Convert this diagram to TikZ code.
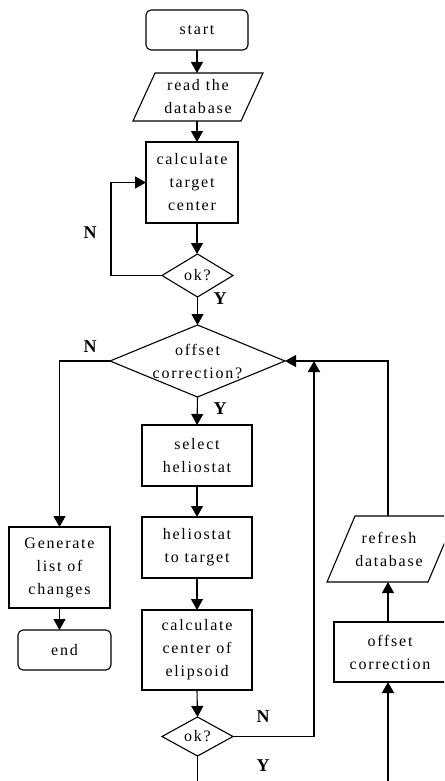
\documentclass[tikz,border=0pt]{standalone}
\usepackage{fontspec}
\setmainfont{Liberation Serif}[LetterSpace=11]
\newfontfamily\labelfont{Liberation Serif}
\usetikzlibrary{arrows.meta,calc}

\tikzset{
  every node/.style={inner sep=0pt, outer sep=0pt},
  txt/.style={font=\fontsize{16}{23}\selectfont, align=center},
  procbox/.style={txt, draw, line width=1.1pt, minimum width=#1},
  procbox/.default=110pt,
  termbox/.style={txt, draw, line width=1.1pt, rounded corners=5pt},
  decide/.style={txt},
  iobox/.style={txt},
  outline/.style={line width=1.1pt},
  yn/.style={font=\labelfont\bfseries\fontsize{18}{18}\selectfont},
  link/.style={line width=1.1pt},
  arr/.style={link, -{Triangle[width=12pt,length=11pt]}},
  heavy/.style={line width=1.7pt}
}

\begin{document}
\begin{tikzpicture}[x=1pt,y=-1pt]
\path[use as bounding box] (0,0) rectangle (444,781);
\clip (0,0) rectangle (444,781);
\fill[white] (0,0) rectangle (444,781);

% main column
\node[termbox, minimum width=102pt, minimum height=40pt] (st) at (197,30) {start};
\node[iobox, minimum width=108pt, minimum height=48pt] (rd) at (198,97) {read the\\database};
\draw[outline, shift={(rd.center)}] (-43,-24) -- (65,-24) -- (43,24) -- (-65,24) -- cycle;
\node[procbox=92pt, minimum height=81pt] (ct) at (192,182.5) {calculate\\target\\center};
\node[decide, minimum width=71pt, minimum height=43pt] (ok1) at (197.5,275.5) {ok?};
\draw[outline] (ok1.north) -- (ok1.east) -- (ok1.south) -- (ok1.west) -- cycle;
\node[decide, minimum width=175pt, minimum height=72pt] (od) at (197.5,361) {offset\\correction?};
\draw[outline] (od.north) -- (od.east) -- (od.south) -- (od.west) -- cycle;
\node[procbox, minimum height=61pt] (sel) at (197,455.5) {select\\heliostat};
\node[procbox, minimum height=61pt] (ht) at (197,547.5) {heliostat\\to target};
\node[procbox, minimum height=80pt] (cc) at (197,650) {calculate\\center of\\elipsoid};
\node[decide, minimum width=71pt, minimum height=39pt] (ok2) at (197.5,736.5) {ok?};
\draw[outline] (ok2.north) -- (ok2.east) -- (ok2.south) -- (ok2.west) -- cycle;

% left column
\node[procbox=101pt, minimum height=81pt] (gen) at (59.5,567.5) {Generate\\list of\\changes};
\node[termbox, minimum width=93pt, minimum height=40pt] (en) at (64.5,650) {end};

% right column
\node[procbox=112pt, minimum height=60pt] (oc) at (390,652) {offset\\correction};
\node[iobox, minimum width=100pt, minimum height=66pt] (rf) at (389,549) {refresh\\database};
\draw[outline, shift={(rf.center)}] (-34,-33) -- (67,-33) -- (39,33) -- (-62,33) -- cycle;

% free ends at the lower edge
\coordinate (b1) at (197.5,781);
\coordinate (b2) at (388,781);
\coordinate (jn) at (314,361);

% connectors
\draw[arr] (st.south) -- (st.south |- rd.north);
\draw[arr] (rd.south -| st.south) -- (st.south |- ct.north);
\draw[arr] (ct.south -| st.south) -- (st.south |- ok1.north);
\draw[arr] (ok1.west) -- ++(-51,0) |- (ct.west);
\draw[arr] (ok1.south) -- (od.north);
\draw[arr] (od.south) -- (sel.north);
\draw[arr] (sel.south) -- (ht.north);
\draw[arr] (ht.south) -- (cc.north);
\draw[arr] (cc.south) -- (ok2.north);
\draw[link] (ok2.south) -- (b1);
\draw[arr, heavy] (ok2.east) -| (jn);
\draw[arr] (od.west) -| (gen.north);
\draw[arr] (gen.south) -- (gen.south |- en.north);
\draw[arr, heavy] (b2) -- (b2 |- oc.south);
\draw[arr] (oc.north -| b2) -- (rf.south -| b2);
\draw[arr] (rf.north -| b2) |- (od.east);

% branch labels
\node[yn] (n1) at (90,233) {N};
\node[yn] (y1) at (220,299) {Y};
\node[yn] (n2) at (90,347) {N};
\node[yn] (y2) at (220,409) {Y};
\node[yn] (n3) at (263,717) {N};
\node[yn] (y3) at (263,766) {Y};
\end{tikzpicture}
\end{document}
